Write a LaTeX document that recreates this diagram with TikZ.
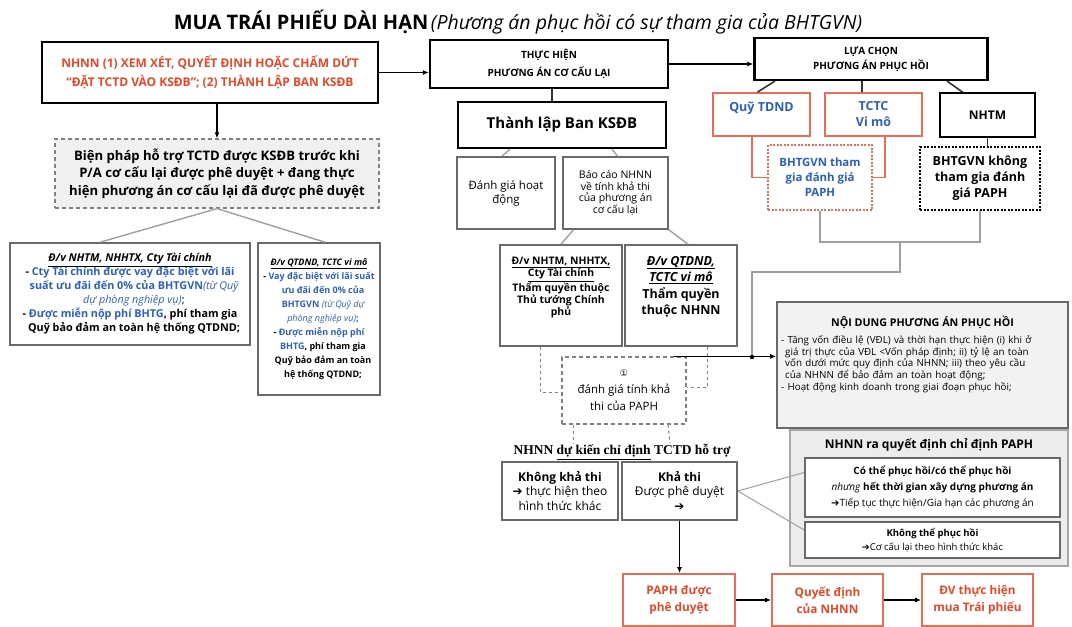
\documentclass[tikz,border=0pt]{standalone}
\usepackage{fontspec}
\setmainfont{Open Sans}
\newfontfamily\serifrm{Liberation Serif}
\newfontfamily\symrm{DejaVu Sans}
\usetikzlibrary{arrows.meta}

\definecolor{redtxt}{RGB}{228,72,40}
\definecolor{bluetxt}{RGB}{45,95,185}
\definecolor{redline}{RGB}{232,108,88}
\definecolor{boxline}{RGB}{105,105,105}

\newcommand\fsz[2]{\fontsize{#1}{#2}\selectfont}
\newcommand\arr{{\symrm\char"2794}}

\tikzset{
  heavybox/.style={draw, line width=2.2pt, align=center},
  box/.style={draw=boxline, line width=1.6pt, align=center},
  redbox/.style={draw=redline, line width=1.8pt, align=center},
  dotbox/.style={draw, line width=2pt, dash pattern=on 2pt off 1.5pt, align=center},
  dashbox/.style={draw=gray, line width=1.2pt, dash pattern=on 4pt off 3pt, align=center},
  link/.style={draw=gray!75, line width=1.4pt},
  darklink/.style={draw=black!80, line width=1.6pt},
  redlink/.style={draw=redline, line width=1.6pt},
  dashlink/.style={draw=gray, line width=1pt, dash pattern=on 3pt off 3pt},
}

\begin{document}
\begin{tikzpicture}[x=1pt,y=-1pt,>={Latex[length=6pt,width=5pt]}]
\useasboundingbox (0,0) rectangle (1072,627);

% title
\node[inner sep=0pt] (title) at (518,22)
  {{\bfseries\fsz{20}{24}MUA TRÁI PHIẾU DÀI HẠN} {\itshape\fsz{19.5}{22}(Phương án phục hồi có sự tham gia của BHTGVN)}};

% left column
\node[heavybox, minimum width=336pt, minimum height=61pt, text=redtxt, font=\bfseries\fsz{12}{19}] (nhnn) at (210,72.5)
  {NHNN (1) XEM XÉT, QUYẾT ĐỊNH HOẶC CHẤM DỨT\\“ĐẶT TCTD VÀO KSĐB”; (2) THÀNH LẬP BAN KSĐB};
\node[dashbox, fill=gray!12, minimum width=324pt, minimum height=69pt, font=\bfseries\fsz{13.1}{17.5}] (bienphap) at (217,173.5)
  {Biện pháp hỗ trợ TCTD được KSĐB trước khi\\P/A cơ cấu lại được phê duyệt + đang thực\\hiện phương án cơ cấu lại đã được phê duyệt};
\node[box, minimum width=240pt, minimum height=102pt, text width=224pt, align=justify, font=\bfseries\fsz{10.8}{14}] (dvnhtm) at (130,294)
  {\centering\underline{\itshape Đ/v NHTM, NHHTX, Cty Tài chính}\par
   \hangindent=8pt\hangafter=1 - {\color{bluetxt}Cty Tài chính được vay đặc biệt với lãi suất ưu đãi đến 0\% của BHTGVN{\mdseries\itshape(từ Quỹ dự phòng nghiệp vụ)};}\par
   \hangindent=8pt\hangafter=1 - {\color{bluetxt}Được miễn nộp phí BHTG}, phí tham gia Quỹ bảo đảm an toàn hệ thống QTDND;\par};
\node[box, minimum width=122pt, minimum height=152pt, text width=112pt, align=justify, font=\bfseries\fsz{9}{14}] (dvqtdnd) at (319,319)
  {\centering\underline{\itshape Đ/v QTDND, TCTC vi mô}\par
   \hangindent=8pt\hangafter=1 - {\color{bluetxt}Vay đặc biệt với lãi suất ưu đãi đến 0\% của BHTGVN {\mdseries\itshape(từ Quỹ dự phòng nghiệp vụ)};}\par
   \hangindent=8pt\hangafter=1 - {\color{bluetxt}Được miễn nộp phí BHTG}, phí tham gia Quỹ bảo đảm an toàn hệ thống QTDND;\par};

% middle column
\node[heavybox, minimum width=238pt, minimum height=48pt, font=\bfseries\fsz{10}{18}] (thuchien) at (549,64)
  {THỰC HIỆN\\PHƯƠNG ÁN CƠ CẤU LẠI};
\node[heavybox, minimum width=208pt, minimum height=46pt, font=\bfseries\fsz{15}{17}] (thanhlap) at (562,125)
  {Thành lập Ban KSĐB};
\node[box, minimum width=98pt, minimum height=72pt, font=\fsz{11.5}{14}] (danhgia) at (506,193)
  {Đánh giá hoạt\\động};
\node[box, minimum width=105pt, minimum height=72pt, font=\fsz{10.5}{11.5}] (baocao) at (615.5,193)
  {Báo cáo NHNN\\về tính khả thi\\của phương án\\cơ cấu lại};
\node[box, minimum width=122pt, minimum height=101pt, font=\bfseries\fsz{10.4}{12}] (dvnhtmtq) at (561,295.5)
  {\underline{Đ/v NHTM, NHHTX,}\\\underline{Cty Tài chính}\\Thẩm quyền thuộc\\Thủ tướng Chính\\phủ\\[6pt]};
\node[box, minimum width=112pt, minimum height=101pt, font=\bfseries\fsz{12.5}{16.5}] (dvqtdndtq) at (681,295.5)
  {\underline{\itshape Đ/v QTDND,}\\\underline{\itshape TCTC vi mô}\\Thẩm quyền\\thuộc NHNN\\[4pt]};
\node[dashbox, minimum width=124pt, minimum height=67pt, font=\fsz{11.5}{17}] (khathi) at (624,390.5)
  {{\symrm\fsz{9}{10}①}\\đánh giá tính khả\\thi của PAPH};
\node[inner sep=1pt, font=\serifrm\bfseries\fsz{13.5}{14}] (dukien) at (622,452)
  {NHNN \underline{dự kiến chỉ định} TCTD hỗ trợ};
\node[box, minimum width=116pt, minimum height=58pt, font=\fsz{12}{14.5}] (khongkhathi) at (560,491)
  {\textbf{Không khả thi}\\\arr{} thực hiện theo\\hình thức khác};
\node[box, minimum width=115pt, minimum height=58pt, font=\fsz{12}{14.5}] (cokhathi) at (679.5,491)
  {\textbf{Khả thi}\\Được phê duyệt\\\arr};

% right column
\node[heavybox, minimum width=233pt, minimum height=42pt, font=\bfseries\fsz{10}{15}] (luachon) at (871,59)
  {LỰA CHỌN\\PHƯƠNG ÁN PHỤC HỒI};
\node[redbox, minimum width=97pt, minimum height=43pt, text=bluetxt, font=\bfseries\fsz{12.5}{16}] (quytdnd) at (761.5,114.5)
  {Quỹ TDND\\\mbox{}};
\node[redbox, minimum width=97pt, minimum height=43pt, text=bluetxt, font=\bfseries\fsz{12.5}{16}] (tctc) at (873.5,114.5)
  {TCTC\\Vi mô};
\node[heavybox, line width=1.8pt, minimum width=95pt, minimum height=44pt, font=\bfseries\fsz{12}{16}] (nhtm) at (987.5,115)
  {NHTM};
\node[redbox, dash pattern=on 2pt off 1.5pt, fill=white, minimum width=104pt, minimum height=65pt, text=bluetxt, font=\bfseries\fsz{11.4}{15}] (bhthamgia) at (820,177.5)
  {BHTGVN tham\\gia đánh giá\\PAPH};
\node[dotbox, minimum width=120pt, minimum height=63pt, font=\bfseries\fsz{12.5}{16}] (bhkhong) at (980,178.5)
  {BHTGVN không\\tham gia đánh\\giá PAPH};
\node[box, fill=gray!10, minimum width=291pt, minimum height=126pt] (noidung) at (922.5,365) {};
\node[font=\bfseries\fsz{10.7}{12}] (noidungtitle) at (922.5,322) {NỘI DUNG PHƯƠNG ÁN PHỤC HỒI};
\node[anchor=west, inner sep=0pt, text width=300pt, align=left, font=\fsz{9.8}{11.8}] (noidungtext) at (781,364)
  {- Tăng vốn điều lệ (VĐL) và thời hạn thực hiện (i) khi ở\\
   \hspace*{4pt}giá trị thực của VĐL <Vốn pháp định; ii) tỷ lệ an toàn\\
   \hspace*{4pt}vốn dưới mức quy định của NHNN; iii) theo yêu cầu\\
   \hspace*{4pt}của NHNN để bảo đảm an toàn hoạt động;\\
   - Hoạt động kinh doanh trong giai đoạn phục hồi;};
\node[draw=gray!70, line width=1.2pt, fill=gray!15, minimum width=278pt, minimum height=136pt] (quyetdinh) at (929,498) {};
\node[font=\bfseries\fsz{12}{13}] (quyetdinhtitle) at (929,445) {NHNN ra quyết định chỉ định PAPH};
\node[box, fill=white, minimum width=255pt, minimum height=59pt, font=\fsz{10}{16}] (cothe) at (932.5,487.5)
  {\textbf{Có thể phục hồi/có thể phục hồi}\\{\itshape nhưng} \textbf{hết thời gian xây dựng phương án}\\\arr Tiếp tục thực hiện/Gia hạn các phương án};
\node[box, fill=white, minimum width=255pt, minimum height=36pt, font=\fsz{9.5}{14}] (khongthe) at (932.5,540)
  {\textbf{Không thể phục hồi}\\\arr Cơ cấu lại theo hình thức khác};

% bottom row
\node[redbox, minimum width=112pt, minimum height=52pt, text=redtxt, font=\bfseries\fsz{11.8}{17}] (paph) at (679,600)
  {PAPH được\\phê duyệt};
\node[redbox, minimum width=111pt, minimum height=52pt, text=redtxt, font=\bfseries\fsz{11.8}{17}] (qdnhnn) at (827.5,600)
  {Quyết định\\của NHNN};
\node[redbox, minimum width=111pt, minimum height=52pt, text=redtxt, font=\bfseries\fsz{11.8}{17}] (muatp) at (977.5,600)
  {ĐV thực hiện\\mua Trái phiếu};

% connectors
\draw[->, line width=1.8pt] (nhnn.east) -- (nhnn.east -| thuchien.west);
\draw[->, line width=1.8pt] (thuchien.east) -- (thuchien.east -| luachon.west);
\draw[->, line width=2.4pt] (bienphap.north |- nhnn.south) -- (bienphap.north);
\draw[link] (bienphap.south) -- ([xshift=-30pt]dvnhtm.north);
\draw[link] (bienphap.south) -- ([xshift=6pt]dvqtdnd.north);
\draw[darklink] ([xshift=3pt]thuchien.south) -- ([xshift=3pt]thuchien.south |- thanhlap.north);
\draw[link] ([xshift=-52pt]thanhlap.south) -- ([xshift=-4pt]danhgia.north);
\draw[link] ([xshift=50pt]thanhlap.south) -- ([xshift=2pt]baocao.north);
\draw[link] ([xshift=-42pt]baocao.south) -- (dvnhtmtq.north);
\draw[link] (baocao.south east) -- ([xshift=7pt]dvqtdndtq.north);
\draw[dashlink] ([xshift=-21pt]dvnhtmtq.south) |- ([yshift=-1.5pt]khathi.west);
\draw[dashlink] ([xshift=26pt]dvqtdndtq.south) |- ([yshift=3pt]khathi.east);
\draw[darklink] ([xshift=-96pt]luachon.south) -- ([xshift=-4pt]quytdnd.north);
\draw[darklink] ([xshift=-9pt]luachon.south) -- ([xshift=-9pt]luachon.south |- tctc.north);
\draw[darklink] ([xshift=76pt]luachon.south) -- ([xshift=-25pt]nhtm.north);
\draw[redlink] ([xshift=-9.5pt]quytdnd.south) |- (bhthamgia.west);
\draw[redlink] ([xshift=11.5pt]tctc.south) |- (bhthamgia.east);
\draw[darklink] (nhtm.south) -- (nhtm.south |- bhkhong.north);
\coordinate (join) at (900,242);
\coordinate (turn) at (752,272);
\coordinate (dot) at (752,357);
\draw[link] (bhthamgia.south) |- (join) -| (bhkhong.south);
\draw[link] (join) |- (turn) -- (dot);
\fill (dot) circle (2.2pt);
\draw[->, line width=1.4pt] ([xshift=-13pt]khathi.north east) -- (khathi.north east -| noidung.west);
\draw[dashlink] ([xshift=-51pt]khathi.south) -- ([xshift=-49pt]dukien.north);
\draw[dashlink] ([xshift=44pt]khathi.south) -- ([xshift=48pt]dukien.north);
\draw[link, line width=1pt] (cokhathi.east) -- ([yshift=15pt]cothe.west);
\draw[link, line width=1pt] (cokhathi.east) -- ([yshift=10pt]khongthe.west);
\draw[->, line width=1.4pt] (cokhathi.south) -- (cokhathi.south |- paph.north);
\draw[->, line width=1.4pt] (paph.east) -- (qdnhnn.west);
\draw[->, line width=1.4pt] (qdnhnn.east) -- (muatp.west);
\end{tikzpicture}
\end{document}
